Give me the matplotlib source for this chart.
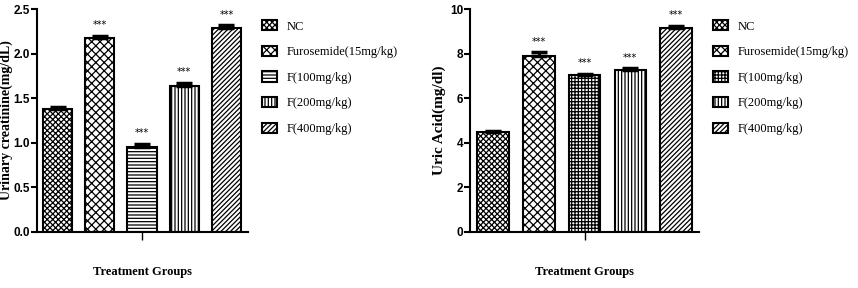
import matplotlib
matplotlib.use("Agg")
import matplotlib.pyplot as plt
from matplotlib.patches import Patch

groups = ["NC", "Furosemide(15mg/kg)", "F(100mg/kg)", "F(200mg/kg)", "F(400mg/kg)"]
creatinine = [1.38, 2.17, 0.95, 1.64, 2.29]
creatinine_err = [0.02, 0.03, 0.04, 0.03, 0.03]
uric_acid = [4.5, 7.9, 7.05, 7.28, 9.15]
uric_err = [0.05, 0.15, 0.05, 0.06, 0.1]
sig = ["", "***", "***", "***", "***"]

hatches_left = ["xxxxxx", "xxxx", "-----", "|||||", "///////"]
hatches_right = ["xxxxxx", "xxxx", "+++++", "|||||", "///////"]

plt.rcParams["hatch.linewidth"] = 0.9
plt.rcParams["font.family"] = ["Liberation Sans", "DejaVu Sans"]

fig = plt.figure(figsize=(8.58, 2.88), dpi=100)

serif = ["Liberation Serif", "DejaVu Serif"]


def panel(rect, values, errs, hatches, ylim, yticks, yticklabels, ylabel, ylabel_size, xlim,
          ylabel_x, legend_anchor):
    ax = fig.add_axes(rect)
    x = list(range(len(values)))
    bars = ax.bar(x, values, width=0.69, color="white", edgecolor="black",
                  linewidth=1.5, zorder=2)
    for b, h in zip(bars, hatches):
        b.set_hatch(h)
    ax.errorbar(x, values, yerr=[[0] * len(errs), errs], fmt="none", ecolor="black",
                elinewidth=2.0, capsize=6, capthick=2.5, zorder=3)
    for xi, v, e, s in zip(x, values, errs, sig):
        if s:
            ax.annotate(s, (xi, v + e), xytext=(0, 4), textcoords="offset points",
                        ha="center", va="bottom", fontsize=7, fontfamily="DejaVu Sans")
    ax.set_xlim(*xlim)
    ax.set_ylim(*ylim)
    ax.set_yticks(yticks)
    ax.set_yticklabels(yticklabels, fontsize=8.5, fontweight="bold")
    ax.set_xticks([2])
    ax.set_xticklabels([""])
    for sp in ["top", "right"]:
        ax.spines[sp].set_visible(False)
    for sp in ["left", "bottom"]:
        ax.spines[sp].set_linewidth(1.5)
    ax.tick_params(axis="y", length=4, width=1.5, pad=1)
    ax.tick_params(axis="x", length=6, width=1.0)
    ax.set_ylabel(ylabel, fontfamily=serif, fontweight="bold", fontsize=ylabel_size)
    ax.yaxis.set_label_coords(ylabel_x, 0.5)
    ax.yaxis.label.set_va("center")
    ax.set_xlabel("Treatment Groups", fontfamily=serif, fontweight="bold", fontsize=9)
    ax.xaxis.set_label_coords(0.5, -0.179)
    ax.xaxis.label.set_va("center")
    handles = [Patch(facecolor="white", edgecolor="black", linewidth=1.5, hatch=h)
               for h in hatches]
    fig.legend(handles, groups, loc="upper left", bbox_to_anchor=legend_anchor,
               frameon=False, prop={"family": serif, "size": 9},
               handlelength=1.2, handleheight=0.9, handletextpad=0.75, labelspacing=1.05,
               borderpad=0, borderaxespad=0)
    return ax


panel([37 / 858, 56 / 288, 211 / 858, 223 / 288], creatinine, creatinine_err, hatches_left,
      (0, 2.5), [0, 0.5, 1.0, 1.5, 2.0, 2.5], ["0.0", "0.5", "1.0", "1.5", "2.0", "2.5"],
      "Urinary creatinine(mg/dL)", 10, (-0.486, 4.51), -0.145, (262 / 858, 1 - 20 / 288))
panel([470 / 858, 56 / 288, 229 / 858, 223 / 288], uric_acid, uric_err, hatches_right,
      (0, 10), [0, 2, 4, 6, 8, 10], ["0", "2", "4", "6", "8", "10"],
      "Uric Acid(mg/dl)", 11, (-0.503, 4.50), -0.135, (713 / 858, 1 - 20 / 288))

fig.savefig("out.png", dpi=100)
